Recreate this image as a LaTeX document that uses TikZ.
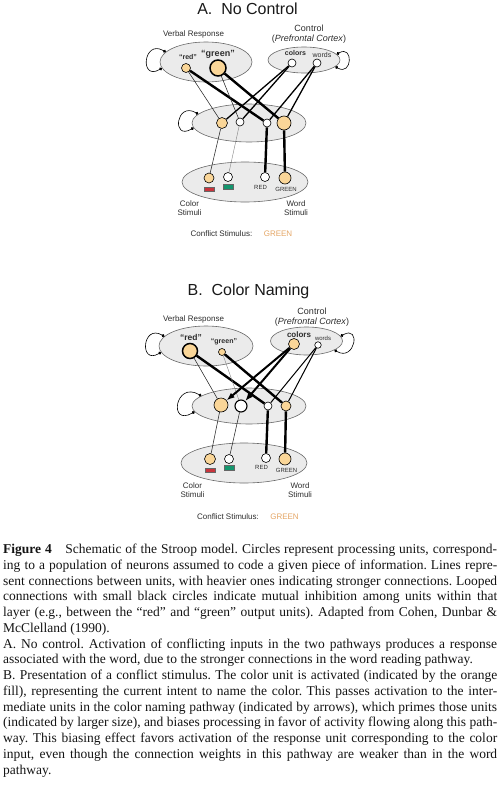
\documentclass[tikz,border=0pt]{standalone}
\usepackage{fontspec}
\setmainfont{Liberation Serif}
\setsansfont{Liberation Sans}
\usetikzlibrary{arrows.meta,positioning,shapes.geometric}
\definecolor{unitOrange}{RGB}{250,214,152}
\definecolor{layerGray}{RGB}{235,235,235}
\definecolor{layerEdge}{RGB}{105,105,105}
\definecolor{stimRed}{RGB}{200,52,60}
\definecolor{stimGreen}{RGB}{20,150,110}
\definecolor{conflictOrange}{RGB}{228,165,100}
\definecolor{labelGray}{RGB}{45,45,45}
\tikzset{%
  >={Latex[width=6pt,length=8pt]},
  % Specifications for style of nodes:
     layer_ell/.style = {ellipse, draw=layerEdge, fill=layerGray,
                         line width=0.6pt, inner sep=0pt},
      unit_off/.style = {circle, draw=black, fill=white, line width=0.6pt,
                         inner sep=0pt},
       unit_on/.style = {unit_off, fill=unitOrange},
      stim_bar/.style = {rectangle, draw=black!60, line width=0.3pt,
                         minimum width=10.5pt, minimum height=4.5pt, inner sep=0pt},
   panel_title/.style = {font=\sffamily\fontsize{16}{18}\selectfont, text=black!90},
     layer_txt/.style = {font=\sffamily\fontsize{8}{8.7}\selectfont, text=labelGray,
                         align=center, inner sep=0pt},
      ctrl_txt/.style = {font=\sffamily\fontsize{9}{10}\selectfont, text=labelGray,
                         align=center, inner sep=0pt},
      resp_txt/.style = {font=\sffamily\bfseries\fontsize{#1}{#1}\selectfont,
                         text=labelGray, inner sep=0pt},
     plain_txt/.style = {font=\sffamily\fontsize{#1}{#1}\selectfont,
                         text=labelGray, inner sep=0pt},
   caption_txt/.style = {anchor=north west, text width=494pt, align=justify,
                         inner sep=0pt, text=black!92,
                         font=\fontsize{13.5}{15.75}\selectfont\frenchspacing},
  % Specifications for style of connections:
     link_faint/.style = {line width=0.4pt, black!50},
      link_weak/.style = {line width=0.55pt, black!85},
       link_mid/.style = {line width=1.3pt},
    link_strong/.style = {line width=2.4pt},
     link_arrow/.style = {line width=2pt, ->},
       loop_inh/.style = {line width=0.6pt, {Circle[length=3pt]}-{Circle[length=3pt]}},
}

\begin{document}
\begin{tikzpicture}[x=1pt, y=1pt]
  \useasboundingbox (0,0) rectangle (500,-787);

  % ---------------- A. No Control ----------------
  \node (titleA)      [panel_title] at (247.5,-9)    {A.~~No Control};

  \node (verbalA)     [layer_ell, minimum width=92pt, minimum height=40pt]  at (206,-62)  {};
  \node (controlA)    [layer_ell, minimum width=72pt, minimum height=26pt]  at (304,-60)  {};
  \node (hiddenA)     [layer_ell, minimum width=114pt, minimum height=38pt] at (249,-123) {};
  \node (inputA)      [layer_ell, minimum width=126pt, minimum height=40pt] at (245,-182) {};

  \node (verbalA_txt)  [layer_txt] at (193.5,-34) {Verbal Response};
  \node (controlA_txt) [ctrl_txt]  at (309,-34)   {Control\\(\textit{Prefrontal Cortex})};

  \node (redA)        [unit_on, minimum size=9pt]                   at (186,-68)  {};
  \node (greenA)      [unit_on, minimum size=16pt, line width=1.5pt] at (218,-68) {};
  \node (colorsA)     [unit_off, minimum size=8pt]                  at (292,-63)  {};
  \node (wordsA)      [unit_off, minimum size=8pt]                  at (317,-63)  {};
  \node (redA_txt)    [resp_txt=7]   at (188,-57)   {“red”};
  \node (greenA_txt)  [resp_txt=9]   at (218,-54)   {“green”};
  \node (colorsA_txt) [resp_txt=7]   at (295.5,-53) {colors};
  \node (wordsA_txt)  [plain_txt=7]  at (322,-55)   {words};

  \node (h1A)         [unit_on, minimum size=11pt]  at (222,-123) {};
  \node (h2A)         [unit_off, minimum size=8pt]  at (240,-122) {};
  \node (h3A)         [unit_off, minimum size=8pt]  at (267,-123) {};
  \node (h4A)         [unit_on, minimum size=14pt]  at (284,-123) {};

  \node (c1A)         [unit_on, minimum size=10pt]  at (209,-178) {};
  \node (c2A)         [unit_off, minimum size=9pt]  at (228,-177) {};
  \node (wRedA)       [unit_off, minimum size=9pt]  at (265,-177) {};
  \node (wGreenA)     [unit_on, minimum size=12pt]  at (285,-178) {};
  \node (barRedA)     [stim_bar, fill=stimRed, below=3.5pt of c1A]   {};
  \node (barGreenA)   [stim_bar, fill=stimGreen, below=2.5pt of c2A] {};
  \node (wRedA_txt)   [plain_txt=6]  at (260.5,-187) {RED};
  \node (wGreenA_txt) [plain_txt=6]  at (286,-189)   {GREEN};

  \node (colorStimA)  [layer_txt] at (189.5,-208) {Color\\Stimuli};
  \node (wordStimA)   [layer_txt] at (296,-208)   {Word\\Stimuli};
  \node (conflictA)     [plain_txt=8] at (221.5,-234) {Conflict Stimulus:};
  \node (conflictA_val) [plain_txt=8, text=conflictOrange, right=11pt of conflictA] {GREEN};

  % mutual inhibition loops
  \draw[loop_inh] (verbalA.166)  to[out=150, in=210, looseness=4]   (verbalA.188);
  \draw[loop_inh] (controlA.10)  to[out=30,  in=330, looseness=4]   (controlA.348);
  \draw[loop_inh] (hiddenA.170)  to[out=150, in=210, looseness=4.5] (hiddenA.185);

  % connections
  \draw[link_weak]   (redA) -- (h1A);
  \draw[link_strong] (redA) -- (h3A);
  \draw[link_weak]   (greenA) -- (h2A);
  \draw[link_strong] (greenA) -- (h4A);
  \draw[link_mid]    (colorsA) -- (h1A);
  \draw[link_mid]    (colorsA) -- (h2A);
  \draw[link_mid]    (wordsA) -- (h3A);
  \draw[link_mid]    (wordsA) -- (h4A);
  \draw[link_weak]   (h1A) -- (c1A);
  \draw[link_faint]  (h2A) -- (c2A);
  \draw[link_strong] (h3A) -- (wRedA);
  \draw[link_strong] (h4A) -- (wGreenA);

  % ---------------- B. Color Naming ----------------
  \node (titleB)      [panel_title] at (248.5,-291)  {B.~~Color Naming};

  \node (verbalB)     [layer_ell, minimum width=94pt, minimum height=40pt]  at (206,-346) {};
  \node (controlB)    [layer_ell, minimum width=72pt, minimum height=28pt]  at (306.5,-341) {};
  \node (hiddenB)     [layer_ell, minimum width=114pt, minimum height=36pt] at (249,-406) {};
  \node (inputB)      [layer_ell, minimum width=126pt, minimum height=40pt] at (244,-463) {};

  \node (verbalB_txt)  [layer_txt] at (193.5,-319) {Verbal Response};
  \node (controlB_txt) [ctrl_txt]  at (312,-317)   {Control\\(\textit{Prefrontal Cortex})};

  \node (redB)        [unit_on, minimum size=15pt, line width=1.5pt] at (190,-351) {};
  \node (greenB)      [unit_on, minimum size=7pt]                   at (222,-352) {};
  \node (colorsB)     [unit_on, minimum size=11pt]                  at (294,-344) {};
  \node (wordsB)      [unit_off, minimum size=6.5pt]                at (318,-345) {};
  \node (redB_txt)    [resp_txt=8.5] at (191,-337) {“red”};
  \node (greenB_txt)  [resp_txt=7]   at (224,-342) {“green”};
  \node (colorsB_txt) [resp_txt=8]   at (299,-335) {colors};
  \node (wordsB_txt)  [plain_txt=6]  at (323,-338) {words};

  \node (h1B)         [unit_on, minimum size=14pt]                   at (221,-405) {};
  \node (h2B)         [unit_off, minimum size=12pt, line width=1.1pt] at (241,-406) {};
  \node (h3B)         [unit_off, minimum size=8pt]                   at (268,-406) {};
  \node (h4B)         [unit_on, minimum size=10pt]                   at (286,-406) {};

  \node (c1B)         [unit_on, minimum size=11pt]  at (210,-459) {};
  \node (c2B)         [unit_off, minimum size=9pt]  at (229,-459) {};
  \node (wRedB)       [unit_off, minimum size=9pt]  at (266,-458) {};
  \node (wGreenB)     [unit_on, minimum size=12pt]  at (285,-459) {};
  \node (barRedB)     [stim_bar, fill=stimRed, below=3pt of c1B]     {};
  \node (barGreenB)   [stim_bar, fill=stimGreen, below=1.5pt of c2B] {};
  \node (wRedB_txt)   [plain_txt=6]  at (261.5,-467) {RED};
  \node (wGreenB_txt) [plain_txt=6]  at (286.5,-470) {GREEN};

  \node (colorStimB)  [layer_txt] at (192.5,-490) {Color\\Stimuli};
  \node (wordStimB)   [layer_txt] at (300,-490)   {Word\\Stimuli};
  \node (conflictB)     [plain_txt=8] at (228,-517) {Conflict Stimulus:};
  \node (conflictB_val) [plain_txt=8, text=conflictOrange, right=11pt of conflictB] {GREEN};

  % mutual inhibition loops
  \draw[loop_inh] (verbalB.167)  to[out=150, in=210, looseness=4]   (verbalB.188);
  \draw[loop_inh] (controlB.8)   to[out=30,  in=330, looseness=4]   (controlB.342);
  \draw[loop_inh] (hiddenB.168)  to[out=150, in=210, looseness=4.5] (hiddenB.186);

  % connections
  \draw[link_weak]   (redB) -- (h1B);
  \draw[link_strong] (redB) -- (h3B);
  \draw[link_faint]  (greenB) -- (h2B);
  \draw[link_strong] (greenB) -- (h4B);
  \draw[link_arrow]  (colorsB) -- (h1B);
  \draw[link_arrow]  (colorsB) -- (h2B);
  \draw[line width=1pt] (wordsB) -- (h3B);
  \draw[line width=1pt] (wordsB) -- (h4B);
  \draw[link_weak]   (h1B) -- (c1B);
  \draw[link_weak]   (h2B) -- (c2B);
  \draw[link_strong] (h3B) -- (wRedB);
  \draw[link_strong] (h4B) -- (wGreenB);

  % ---------------- caption ----------------
  \node (caption) [caption_txt] at (3,-543.8) {%
    \tolerance=9000 \hbadness=10000
    \textbf{Figure 4}\quad Schematic of the Stroop model. Circles represent processing units, correspond-\linebreak
    ing to a population of neurons assumed to code a given piece of information. Lines repre-\linebreak
    sent connections between units, with heavier ones indicating stronger connections. Looped\linebreak
    connections with small black circles indicate mutual inhibition among units within that\linebreak
    layer (e.g., between the “red” and “green” output units). Adapted from Cohen, Dunbar \&\linebreak
    McClelland (1990).\par
    A. No control. Activation of conflicting inputs in the two pathways produces a response\linebreak
    associated with the word, due to the stronger connections in the word reading pathway.\par
    B. Presentation of a conflict stimulus. The color unit is activated (indicated by the orange\linebreak
    fill), representing the current intent to name the color. This passes activation to the inter-\linebreak
    mediate units in the color naming pathway (indicated by arrows), which primes those units\linebreak
    (indicated by larger size), and biases processing in favor of activity flowing along this path-\linebreak
    way. This biasing effect favors activation of the response unit corresponding to the color\linebreak
    input, even though the connection weights in this pathway are weaker than in the word\linebreak
    pathway.};
\end{tikzpicture}
\end{document}
